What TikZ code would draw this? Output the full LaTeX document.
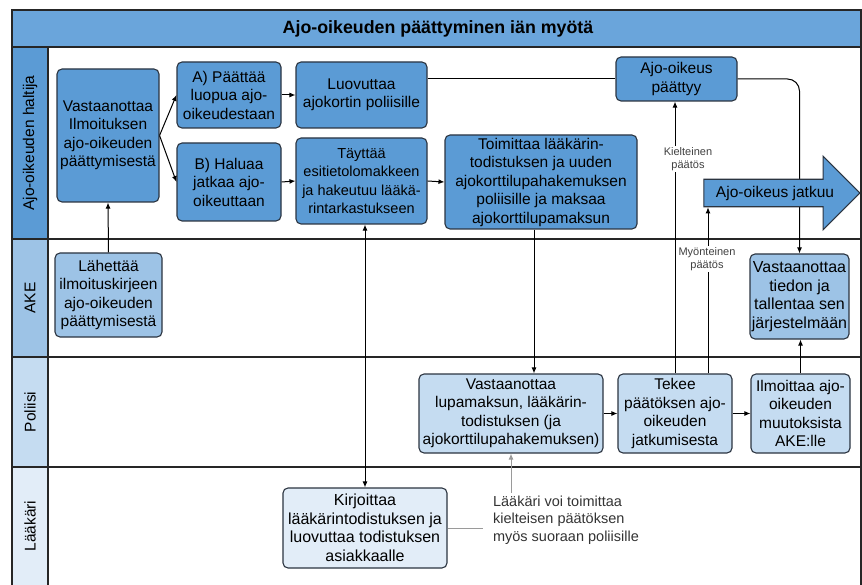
\documentclass[tikz,border=0pt]{standalone}
\usepackage{fontspec}
\setmainfont{Liberation Sans}
\usetikzlibrary{positioning,arrows.meta,calc,shapes.arrows}
\definecolor{titleB}{HTML}{6AA5DB}
\definecolor{haltB}{HTML}{5B9BD5}
\definecolor{akeB}{HTML}{9DC3E6}
\definecolor{polB}{HTML}{C5DCF1}
\definecolor{laakB}{HTML}{E2EDF8}
\definecolor{edgeD}{HTML}{2B3440}
\definecolor{noteG}{HTML}{9A9A9A}

\begin{document}
\begin{tikzpicture}[x=1pt,y=-1pt,
    >={Latex[length=6pt,width=5pt]},
    font=\fontsize{15.5}{18.5}\selectfont,
    task/.style={rectangle,rounded corners=5pt,draw=edgeD,line width=1.1pt,
                 align=center,inner sep=1pt},
    halt/.style={task,fill=haltB},
    ake/.style={task,fill=akeB},
    pol/.style={task,fill=polB},
    laak/.style={task,fill=laakB},
    lane/.style={draw=black!85,line width=1.3pt},
    flow/.style={->,line width=1pt},
    dec/.style={font=\fontsize{11}{13.5}\selectfont,text=black!75,fill=white,
                align=center,inner sep=1pt},
]
\useasboundingbox (0,0) rectangle (862,585);

% =====================================================================
%  Swimlanes
% =====================================================================
\fill[titleB] (12,10) rectangle (861,47);
\node[font=\bfseries\fontsize{17.8}{20}\selectfont] (title) at (438,28.5)
     {Ajo-oikeuden päättyminen iän myötä};

\foreach \ya/\yb/\c/\t [count=\i] in {47/239/haltB/Ajo-oikeuden haltija,
        239/357/akeB/AKE, 357/467/polB/Poliisi, 467/585/laakB/Lääkäri}{
   \fill[\c] (12,\ya) rectangle (48,\yb);
   \node[rotate=90] (lane\i) at (30,{(\ya+\yb)/2}) {\t};
}
\foreach \y in {47,239,357,467} \draw[lane] (12,\y) -- (861,\y);
\draw[lane] (48,47) -- (48,585);
\draw[lane] (12,585) -- (12,10) -- (861,10) -- (861,585);

% =====================================================================
%  Ajo-oikeuden haltija
% =====================================================================
\node[halt,minimum width=102pt,minimum height=133pt] (vast) at (108,135.5)
     {Vastaanottaa\\Ilmoituksen\\ajo-oikeuden\\päättymisestä};
\node[halt,minimum width=104pt,minimum height=66pt] (luopua) at (229,95)
     {A) Päättää\\luopua ajo-\\oikeudestaan};
\node[halt,minimum width=104pt,minimum height=78pt] (jatkaa) at (229,182)
     {B) Haluaa\\jatkaa ajo-\\oikeuttaan};
\node[halt,minimum width=131pt,minimum height=66pt] (luov) at (361.5,95)
     {Luovuttaa\\ajokortin poliisille};
\node[halt,minimum width=131pt,minimum height=86pt,
      font=\fontsize{14.5}{18.5}\selectfont] (tayt) at (361.5,181)
     {Täyttää\\esitietolomakkeen\\ja hakeutuu lääkä-\\rintarkastukseen};
\node[halt,minimum width=192pt,minimum height=94pt] (toim) at (541,182)
     {Toimittaa lääkärin-\\todistuksen ja uuden\\ajokorttilupahakemuksen\\poliisille ja maksaa\\ajokorttilupamaksun};
\node[halt,minimum width=121pt,minimum height=44pt] (paattyy) at (676.5,79)
     {Ajo-oikeus\\päättyy};

% =====================================================================
%  AKE
% =====================================================================
\node[ake,minimum width=107pt,minimum height=84pt] (lah) at (108.5,295)
     {Lähettää\\ilmoituskirjeen\\ajo-oikeuden\\päättymisestä};
\node[ake,minimum width=99pt,minimum height=85pt,
      font=\fontsize{16}{18.5}\selectfont] (tiedon) at (799.5,296.5)
     {Vastaanottaa\\tiedon ja\\tallentaa sen\\järjestelmään};

% =====================================================================
%  Poliisi
% =====================================================================
\node[pol,minimum width=184pt,minimum height=79pt] (lupa) at (511,413.5)
     {Vastaanottaa\\lupamaksun, lääkärin-\\todistuksen (ja\\ajokorttilupahakemuksen)};
\node[pol,minimum width=114pt,minimum height=79pt] (tekee) at (675,413.5)
     {Tekee\\päätöksen ajo-\\oikeuden\\jatkumisesta};
\node[pol,minimum width=99pt,minimum height=79pt] (ilm) at (800.5,413.5)
     {Ilmoittaa ajo-\\oikeuden\\muutoksista\\AKE:lle};

% =====================================================================
%  Lääkäri
% =====================================================================
\node[laak,minimum width=164pt,minimum height=80pt,
      font=\fontsize{16}{18.5}\selectfont] (kirj) at (365,528)
     {Kirjoittaa\\lääkärintodistuksen ja\\luovuttaa todistuksen\\asiakkaalle};
\node[font=\fontsize{14.5}{17.5}\selectfont,text=black!80,align=left,
      inner xsep=10pt,inner ysep=3pt] (note) at (566,520)
     {Lääkäri voi toimittaa\\kielteisen päätöksen\\myös suoraan poliisille};

% =====================================================================
%  Connectors
% =====================================================================
\draw[flow] (lah.north) -- (vast.south);
\draw[flow] (vast.east) -- (luopua.west);
\draw[flow] (vast.east) -- (jatkaa.west);
\draw[flow] (luopua.east) -- (luov.west);
\draw[flow] (jatkaa.east) -- (tayt.west);
\draw[flow] (tayt.east) -- (toim.west);
\draw[line width=1pt] (paattyy.west -| luov.east) -- (paattyy.west);
\draw[flow,<->] (tayt.south -| kirj.north) -- (kirj.north);
\draw[flow] ([xshift=-7pt]toim.south) -- ([xshift=-7pt]toim.south |- lupa.north);
\draw[flow] (lupa.east) -- (tekee.west);
\draw[flow] (tekee.east) -- (ilm.west);
\draw[flow] (ilm.north) -- (ilm.north |- tiedon.south);
\draw[flow,rounded corners=12pt] (paattyy.east) -| (tiedon.north);

% decision: refused -> ends, granted -> continues
\draw[flow] (tekee.north) -- (tekee.north |- paattyy.south);
\node[dec] (kiel) at (688,159) {Kielteinen\\päätös};

\node[single arrow,draw=edgeD,fill=haltB,line width=1.1pt,
      minimum height=156pt,single arrow head extend=23pt,
      single arrow tip angle=90,inner ysep=6pt,inner xsep=2pt] (jatkuu)
      at (775,193) {Ajo-oikeus jatkuu};
\draw[flow] ([xshift=33pt]tekee.north) -- ([xshift=33pt]tekee.north |- jatkuu.270);
\node[dec] (myon) at (707,259) {Myönteinen\\päätös};

% doctor's note
\draw[noteG,line width=1pt] (kirj.east) -- (kirj.east -| note.west);
\draw[noteG,line width=1pt,->] (note.north -| lupa.south) -- (lupa.south);

\end{tikzpicture}
\end{document}
